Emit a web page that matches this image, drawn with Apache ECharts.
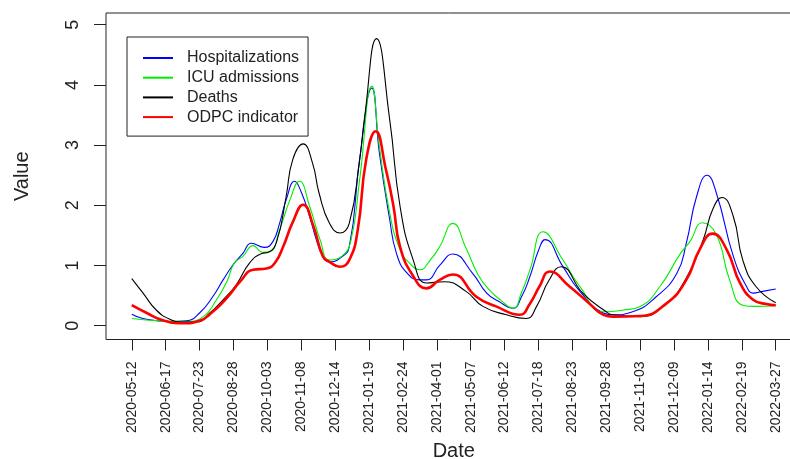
<!DOCTYPE html>
<html lang="en">
<head>
  <meta charset="UTF-8">
  <title>Hospitalizations, ICU admissions, deaths and ODPC indicator</title>
  <script src="https://cdn.jsdelivr.net/npm/echarts@6/dist/echarts.min.js"></script>
</head>
<body>
<div id="chart"></div>
<style>
  html, body {
    margin: 0;
    width: 790px;
    height: 459px;
    background: #fff;
  }
  #chart {
    width: 790px;
    height: 459px;
  }
</style>
<script>
  // x values are days counted from START
  const START = '2020-05-12';

  const tickLabels = [
    '2020-05-12', '2020-06-17', '2020-07-23', '2020-08-28', '2020-10-03',
    '2020-11-08', '2020-12-14', '2021-01-19', '2021-02-24', '2021-04-01',
    '2021-05-07', '2021-06-12', '2021-07-18', '2021-08-23', '2021-09-28',
    '2021-11-03', '2021-12-09', '2022-01-14', '2022-02-19', '2022-03-27'
  ];
  const yTicks = [0, 1, 2, 3, 4, 5];

  const hospitalizations = [
    [0, 0.19], [12, 0.12], [40, 0.07], [58, 0.08], [72, 0.21], [86, 0.48],
    [97, 0.76], [108, 1.02], [118, 1.20], [127, 1.37], [141, 1.30], [150, 1.40],
    [157, 1.70], [164, 2.09], [173, 2.40], [180, 2.22], [189, 1.81], [196, 1.43],
    [203, 1.15], [210, 1.06], [221, 1.12], [231, 1.31], [242, 2.76], [255, 3.95],
    [263, 2.87], [274, 1.76], [281, 1.21], [292, 0.88], [306, 0.76], [313, 0.76],
    [327, 1.00], [341, 1.19], [362, 0.87], [377, 0.54], [390, 0.40], [405, 0.29],
    [414, 0.48], [423, 0.82], [432, 1.25], [439, 1.43], [458, 0.98], [476, 0.57],
    [501, 0.21], [511, 0.18], [532, 0.23], [557, 0.48], [579, 0.87], [589, 1.37],
    [600, 2.15], [611, 2.50], [621, 2.20], [639, 1.15], [653, 0.65], [660, 0.54],
    [670, 0.57], [684, 0.61]
  ];

  const icuAdmissions = [
    [0, 0.12], [30, 0.08], [58, 0.07], [76, 0.15], [90, 0.43], [101, 0.73],
    [109, 1.04], [118, 1.15], [129, 1.33], [139, 1.22], [147, 1.23], [157, 1.59],
    [168, 2.09], [178, 2.40], [189, 1.98], [200, 1.43], [210, 1.09], [223, 1.15],
    [233, 1.43], [242, 2.42], [255, 3.98], [263, 2.98], [274, 1.87], [285, 1.26],
    [295, 1.04], [306, 0.93], [317, 1.09], [327, 1.31], [341, 1.70], [355, 1.29],
    [368, 0.84], [380, 0.59], [392, 0.42], [405, 0.29], [414, 0.55], [423, 0.93],
    [437, 1.56], [458, 1.09], [476, 0.65], [501, 0.23], [522, 0.26], [540, 0.32],
    [561, 0.65], [582, 1.18], [593, 1.40], [606, 1.71], [621, 1.51], [635, 0.76],
    [649, 0.34], [663, 0.32], [684, 0.33]
  ];

  const deaths = [
    [0, 0.78], [12, 0.54], [26, 0.26], [40, 0.11], [54, 0.06], [69, 0.06],
    [83, 0.21], [97, 0.43], [111, 0.68], [125, 1.04], [138, 1.20], [145, 1.22],
    [154, 1.40], [164, 2.15], [171, 2.76], [182, 3.02], [192, 2.70], [199, 2.20],
    [210, 1.70], [221, 1.54], [231, 1.70], [242, 2.75], [247, 3.42], [260, 4.77],
    [274, 3.42], [285, 1.98], [299, 1.09], [313, 0.71], [332, 0.73], [355, 0.57],
    [373, 0.32], [398, 0.18], [419, 0.12], [430, 0.32], [443, 0.75], [456, 0.98],
    [479, 0.54], [504, 0.23], [511, 0.18], [540, 0.15], [568, 0.37], [589, 0.79],
    [607, 1.43], [617, 1.93], [627, 2.13], [639, 1.81], [649, 1.09], [663, 0.65],
    [684, 0.38]
  ];

  const odpcIndicator = [
    [0, 0.34], [16, 0.21], [33, 0.09], [54, 0.04], [72, 0.08], [86, 0.23],
    [101, 0.46], [115, 0.73], [129, 0.93], [143, 0.95], [152, 1.04], [161, 1.32],
    [171, 1.72], [182, 2.01], [193, 1.65], [203, 1.15], [210, 1.06], [221, 0.98],
    [231, 1.09], [240, 1.59], [249, 2.76], [259, 3.23], [270, 2.59], [278, 1.98],
    [285, 1.31], [299, 0.82], [313, 0.62], [327, 0.76], [341, 0.85], [366, 0.48],
    [387, 0.32], [412, 0.18], [423, 0.37], [433, 0.65], [444, 0.90], [465, 0.65],
    [486, 0.37], [501, 0.18], [511, 0.15], [540, 0.16], [568, 0.37], [589, 0.76],
    [603, 1.26], [617, 1.53], [632, 1.26], [646, 0.71], [660, 0.43], [674, 0.36],
    [684, 0.34]
  ];

  const DAY = 864e5;
  const t0 = Date.parse(START);
  const tickDays = tickLabels.map(s => Math.round((Date.parse(s) - t0) / DAY));
  const span = tickDays[tickDays.length - 1] - tickDays[0];
  const pad = span * 0.04;   // same 4% padding as base R plots

  const font = 'Liberation Sans, Arial, Helvetica, sans-serif';

  function lineSeries(name, data, color, width) {
    return {
      name: name,
      type: 'line',
      data: data,
      smooth: 0.5,
      symbol: 'none',
      color: color,
      lineStyle: { color: color, width: width },
      emphasis: { disabled: true },
      animation: false
    };
  }

  const chart = echarts.init(document.getElementById('chart'));
  chart.setOption({
    backgroundColor: '#fff',
    textStyle: { fontFamily: font },
    grid: {
      left: 106,
      top: 13,
      width: 695.5,
      height: 326.5,
      outerBoundsMode: 'none',
      containLabel: false,
      show: true,
      borderColor: '#222',
      borderWidth: 1
    },
    legend: {
      orient: 'vertical',
      left: 127,
      top: 37,
      padding: [13, 9, 11, 15],
      itemWidth: 30,
      itemHeight: 14,
      itemGap: 3.7,
      borderColor: '#222',
      borderWidth: 1,
      backgroundColor: '#fff',
      selectedMode: false,
      itemStyle: { opacity: 0 },
      textStyle: { fontFamily: font, fontSize: 16, color: '#222', padding: [0, 0, 0, 9] },
      data: ['Hospitalizations', 'ICU admissions', 'Deaths', 'ODPC indicator']
    },
    xAxis: {
      type: 'value',
      min: tickDays[0] - pad,
      max: tickDays[tickDays.length - 1] + pad,
      name: 'Date',
      nameLocation: 'middle',
      nameGap: 100,
      nameTextStyle: { fontFamily: font, fontSize: 20, color: '#222' },
      splitLine: { show: false },
      axisLine: { show: false, onZero: false },
      axisTick: {
        show: true,
        inside: false,
        length: 11,
        customValues: tickDays,
        lineStyle: { color: '#222', width: 1 }
      },
      axisLabel: {
        customValues: tickDays,
        rotate: 90,
        margin: 22,
        fontSize: 14,
        color: '#222',
        fontFamily: font,
        formatter: v => tickLabels[tickDays.indexOf(Math.round(v))] || ''
      }
    },
    yAxis: {
      type: 'value',
      min: -0.23,
      max: 5.195,
      name: 'Value',
      nameLocation: 'middle',
      nameGap: 74,
      nameRotate: 90,
      nameTextStyle: { fontFamily: font, fontSize: 20, color: '#222' },
      splitLine: { show: false },
      axisLine: { show: false, onZero: false },
      axisTick: {
        show: true,
        inside: false,
        length: 12,
        customValues: yTicks,
        lineStyle: { color: '#222', width: 1 }
      },
      axisLabel: {
        customValues: yTicks,
        rotate: 90,
        margin: 24,
        fontSize: 18,
        color: '#222',
        fontFamily: font
      }
    },
    series: [
      lineSeries('Hospitalizations', hospitalizations, '#0000ff', 1.1),
      lineSeries('ICU admissions', icuAdmissions, '#00ee00', 1.1),
      lineSeries('Deaths', deaths, '#000000', 1.1),
      lineSeries('ODPC indicator', odpcIndicator, '#ff0000', 2.6)
    ]
  });
</script>
</body>
</html>
